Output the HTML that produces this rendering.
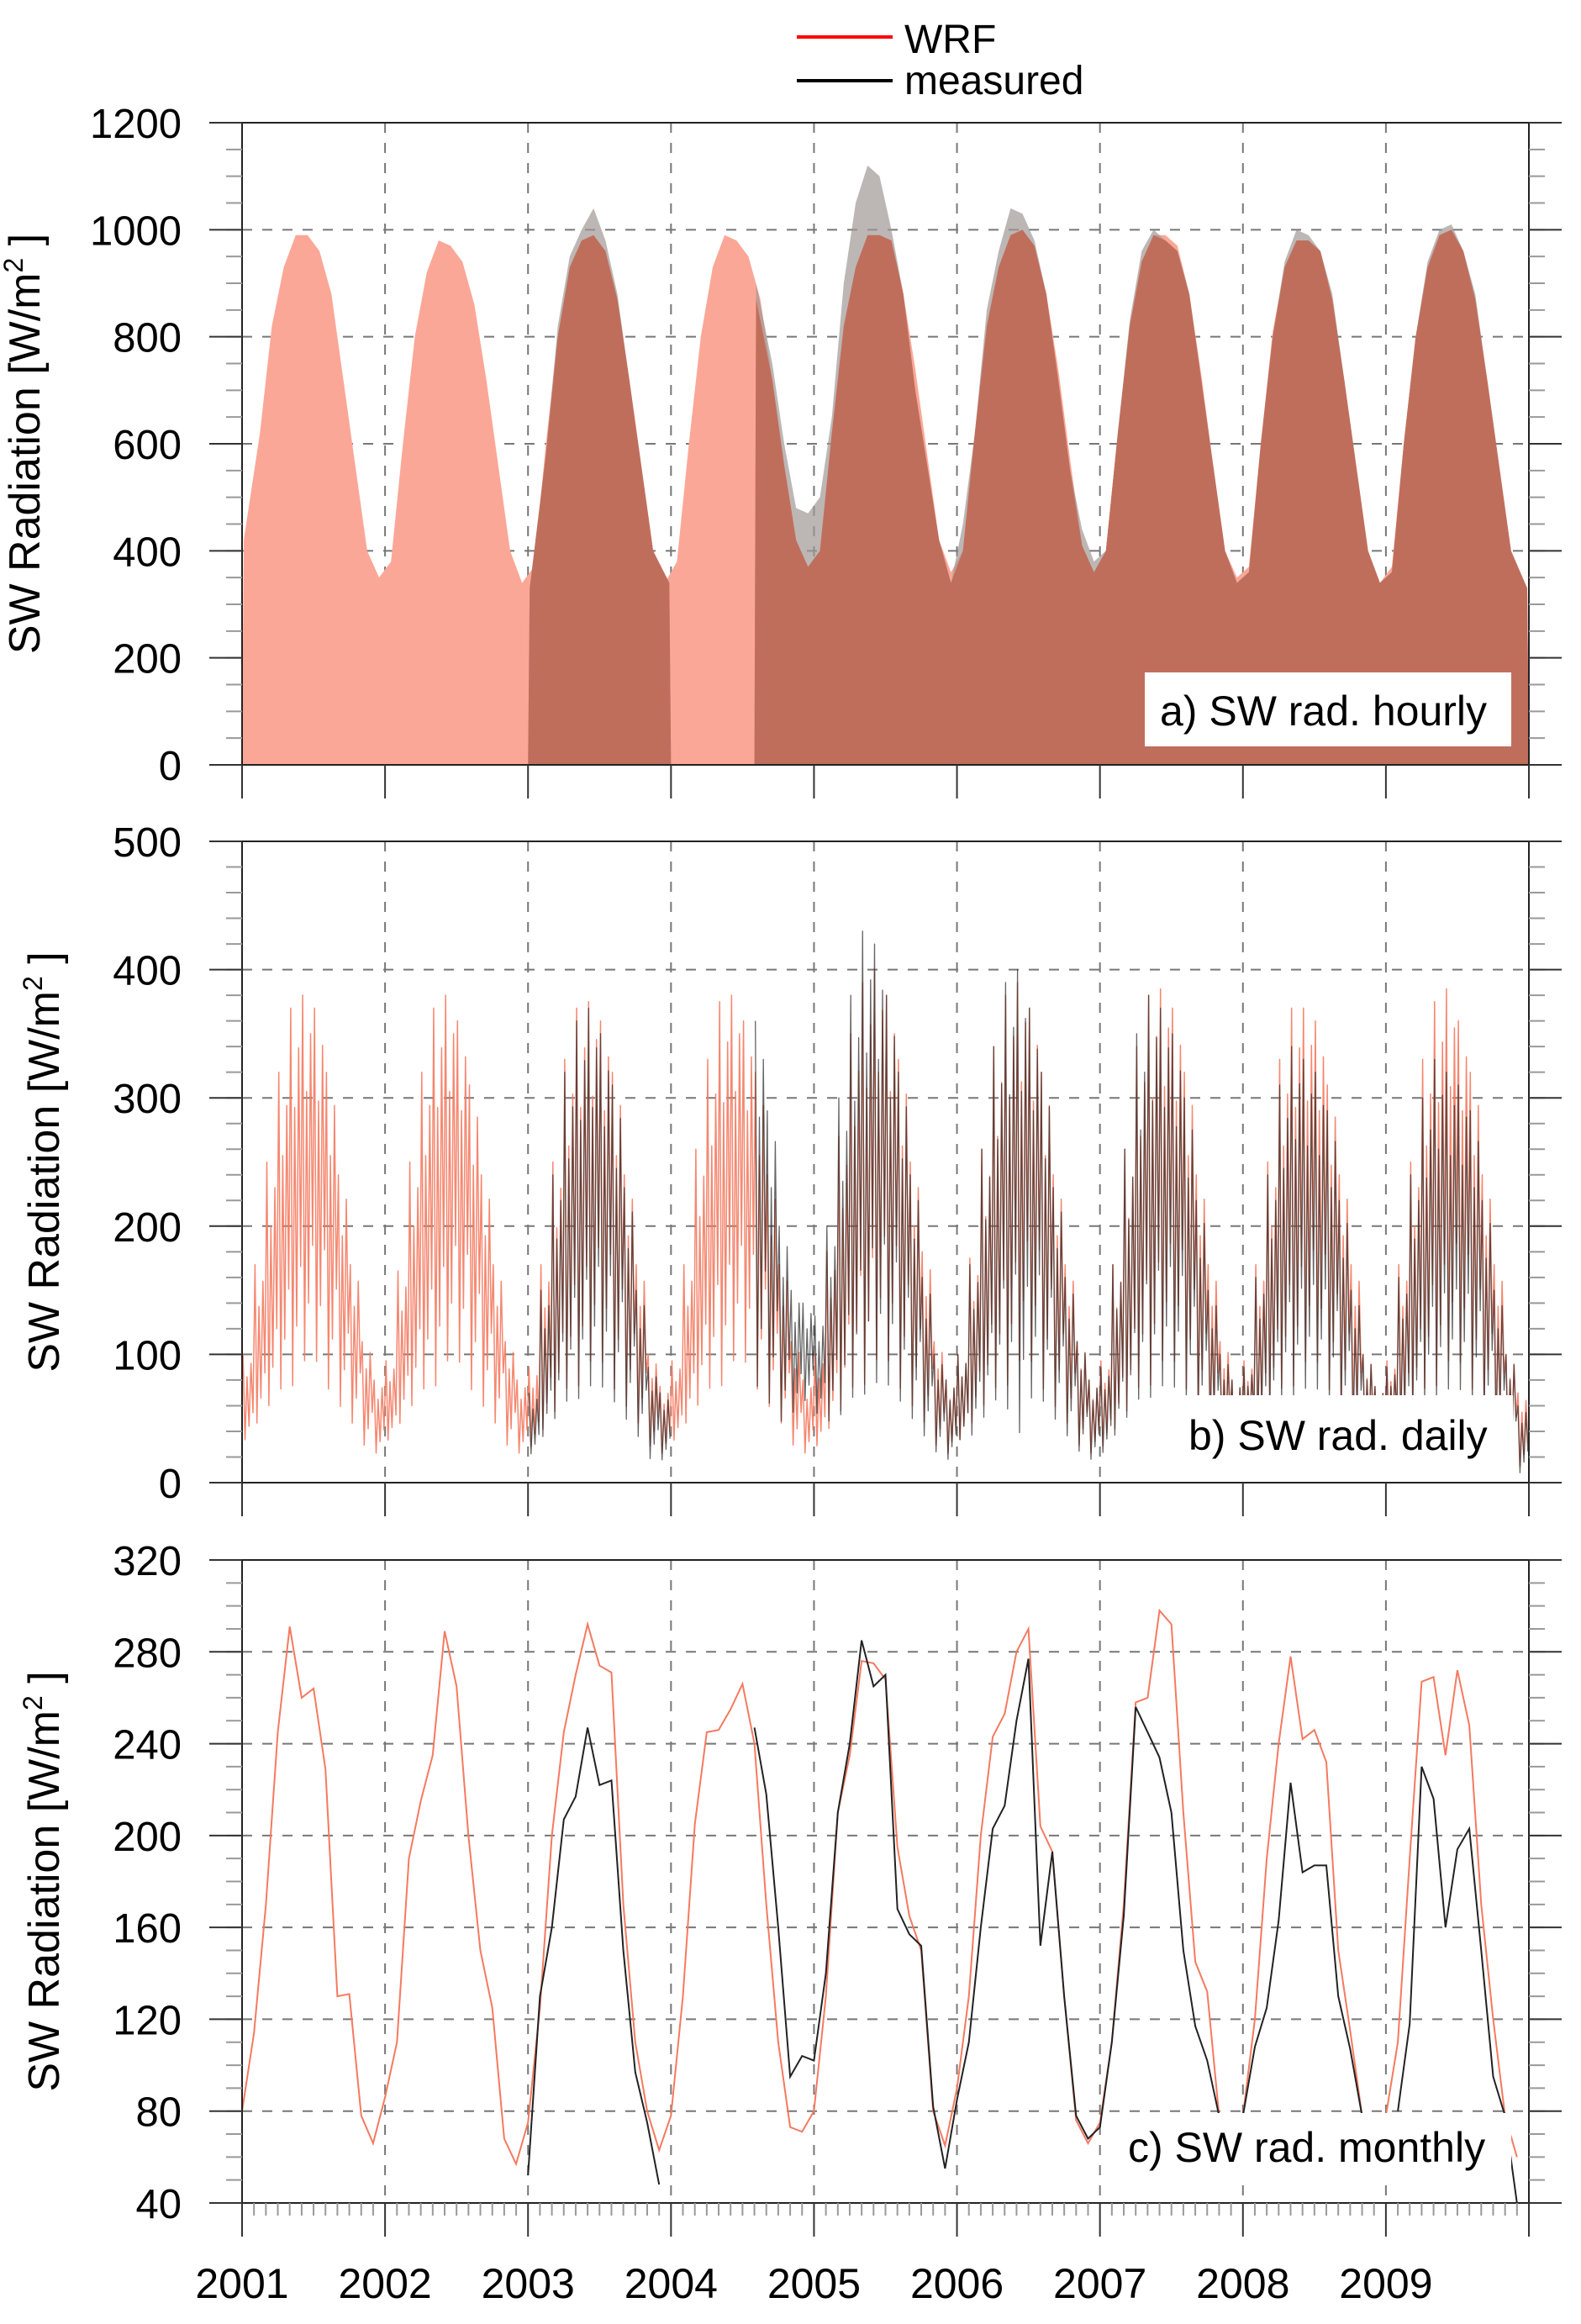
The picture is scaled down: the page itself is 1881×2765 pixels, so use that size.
<!DOCTYPE html>
<html><head><meta charset="utf-8"><style>
html,body{margin:0;padding:0;background:#fff;}
svg text{font-family:"Liberation Sans",sans-serif;fill:#000;}
</style></head><body>
<svg id="chart" width="1881" height="2760" viewBox="0 0 1881 2760" xmlns="http://www.w3.org/2000/svg">
<g id="legend">
  <line x1="948" y1="44" x2="1062" y2="44" stroke="#ff0000" stroke-width="4"/>
  <text x="1076" y="63" font-size="48">WRF</text>
  <line x1="948" y1="96" x2="1062" y2="96" stroke="#000" stroke-width="4"/>
  <text x="1076" y="112" font-size="48">measured</text>
</g>
<g id="pa"></g>
<g id="pb"></g>
<g id="pc"></g>
</svg>
<script>
const years = ["2001","2002","2003","2004","2005","2006","2007","2008","2009"];
// hourly monthly peak values (W/m2)
const wrfHourlyPeak = [420,620,820,930,990,990,960,880,720,560,400,350, 380,600,800,920,980,970,940,860,720,560,400,340, 370,600,800,930,980,990,960,870,720,560,400,340, 380,600,800,930,990,980,950,870,720,560,420,370, 400,620,820,930,990,990,980,880,740,580,420,360, 400,620,820,930,990,1000,970,880,740,570,410,360, 400,620,820,940,990,990,970,880,730,560,400,350, 370,600,810,930,980,980,960,870,720,560,400,340, 370,600,800,930,990,1000,960,870,720,560,400,330];
const measHourlyPeak = [null,null,null,null,null,null,null,null,null,null,null,null, null,null,null,null,null,null,null,null,null,null,null,null, 330,580,820,950,1000,1040,980,880,720,560,400,340, null,null,null,null,null,null,null,900,750,600,480,470, 500,650,900,1050,1120,1100,1000,880,700,560,420,340, 450,620,850,960,1040,1030,980,880,720,550,440,380, 400,620,830,960,1000,980,960,880,720,560,400,340, 360,600,800,940,1000,990,960,880,720,560,400,340, 360,600,800,940,1000,1010,960,880,720,560,400,330];
// daily monthly high / low
const wrfDailyHi = [100,170,250,320,370,380,370,320,240,170,110,80, 95,165,250,320,370,380,360,310,240,170,110,80, 90,170,250,330,370,375,360,320,240,170,100,75, 95,170,260,330,375,380,360,320,240,170,110,80, 100,180,270,350,390,400,380,330,250,180,110,80, 100,175,260,340,380,390,370,320,240,170,110,80, 95,170,260,340,380,385,370,320,240,170,110,80, 95,170,250,330,370,370,360,310,240,170,100,75, 95,170,250,330,375,385,360,320,240,170,100,70];
const wrfDailyLo = [30,40,50,60,60,80,80,60,50,40,25,20, 30,40,50,60,60,80,80,60,50,40,25,20, 25,35,45,60,60,80,80,60,50,40,25,20, 30,40,50,60,60,80,80,60,50,40,25,20, 25,35,45,60,60,80,80,60,50,40,25,20, 30,40,50,60,60,80,80,60,50,40,25,20, 25,35,45,60,60,80,80,60,50,40,25,20, 30,40,50,60,60,80,80,60,50,40,25,20, 30,40,50,60,60,80,80,60,50,40,25,10];
const measDailyHi = [null,null,null,null,null,null,null,null,null,null,null,null, null,null,null,null,null,null,null,null,null,null,null,null, 70,150,240,320,360,370,350,310,230,150,90,70, null,null,null,null,null,null,null,360,290,200,150,140, 130,200,300,380,430,420,380,320,240,160,100,80, 100,170,260,340,390,400,370,320,230,160,110,80, 90,170,260,350,380,370,350,300,220,150,100,80, 90,160,240,310,340,330,320,290,220,150,100,75, 90,160,240,300,330,320,310,290,220,150,100,60];
const measDailyLo = [null,null,null,null,null,null,null,null,null,null,null,null, null,null,null,null,null,null,null,null,null,null,null,null, 20,30,40,50,50,60,60,50,40,30,15,15, null,null,null,null,null,null,null,60,50,40,50,60, 50,40,40,50,50,60,60,50,40,30,20,15, 30,30,40,50,40,20,50,50,40,30,20,15, 20,30,40,50,50,60,60,50,40,30,20,20, 30,30,40,50,50,60,60,50,40,30,20,20, 30,30,40,50,50,60,60,50,40,30,20,5];
// monthly means
const wrfMonthly = [80,114,170,245,291,260,264,229,130,131,78,66, 86,110,190,215,235,289,265,200,150,125,68,57, 75,125,200,245,270,292,274,271,170,110,80,63, 78,130,205,245,246,255,266,240,170,110,73,71, 80,130,210,235,276,275,268,195,165,150,80,65, 90,130,200,243,253,280,290,204,193,130,76,66, 75,110,170,258,260,298,292,210,145,132,78,null, 78,120,190,240,278,242,246,232,150,115,78,null, 78,110,190,267,269,235,272,248,170,120,78,60];
const measMonthly = [null,null,null,null,null,null,null,null,null,null,null,null, null,null,null,null,null,null,null,null,null,null,null,null, 52,130,160,207,217,247,222,224,150,97,75,48, null,null,null,null,null,null,null,247,218,160,95,104, 102,140,210,240,285,265,270,168,157,152,82,55, 85,110,160,203,213,250,277,152,193,130,78,68, 73,110,165,256,245,234,210,150,117,102,78,null, 78,108,125,163,223,184,187,187,130,107,78,null, null,80,118,230,216,160,194,203,150,95,78,40];
const yTicksA = [0,200,400,600,800,1000,1200];
const yTicksB = [0,100,200,300,400,500];
const yTicksC = [40,80,120,160,200,240,280,320];

const NS="http://www.w3.org/2000/svg";
const X0=288, X1=1819;
function xs(t){return X0+t/9*(X1-X0);}
function mk(parent,tag,attrs){const e=document.createElementNS(NS,tag);for(const k in attrs)e.setAttribute(k,attrs[k]);parent.appendChild(e);return e;}

function frame(g,top,bot,vmin,vmax,ticks){
  const ys=v=>bot-(v-vmin)/(vmax-vmin)*(bot-top);
  for(const v of ticks){ if(v===vmin||v===vmax)continue;
    const l=mk(g,'line',{x1:X0,x2:X1,y1:ys(v),y2:ys(v),stroke:'#777','stroke-width':2,'stroke-dasharray':'12,12'});
    
    
  }
  for(let i=1;i<9;i++){
    const l=mk(g,'line',{x1:xs(i),x2:xs(i),y1:top,y2:bot,stroke:'#777','stroke-width':2,'stroke-dasharray':'12,12'});
    
    
  }
  return ys;
}
function axes(g,top,bot,vmin,vmax,ticks,minorStep,titleX,monthTicks,ys){
  mk(g,'rect',{x:X0,y:top,width:X1-X0,height:bot-top,fill:'none',stroke:'#222','stroke-width':2});
  for(let v=vmin;v<=vmax+0.001;v+=minorStep){
    mk(g,'line',{x1:X0-19,x2:X0,y1:ys(v),y2:ys(v),stroke:'#999','stroke-width':2});
    mk(g,'line',{x1:X1,x2:X1+19,y1:ys(v),y2:ys(v),stroke:'#999','stroke-width':2});
  }
  for(const v of ticks){
    mk(g,'line',{x1:X0-39,x2:X0,y1:ys(v),y2:ys(v),stroke:'#333','stroke-width':2});
    mk(g,'line',{x1:X1,x2:X1+39,y1:ys(v),y2:ys(v),stroke:'#333','stroke-width':2});
    const t=mk(g,'text',{x:216,y:ys(v)+18,'font-size':49,'text-anchor':'end'});
    t.textContent=v;
    
    
  }
  for(let i=0;i<=9;i++) mk(g,'line',{x1:xs(i),x2:xs(i),y1:bot,y2:bot+40,stroke:'#333','stroke-width':2});
  if(monthTicks){ for(let m=1;m<108;m++){ if(m%12) mk(g,'line',{x1:xs(m/12),x2:xs(m/12),y1:bot,y2:bot+15,stroke:'#999','stroke-width':2}); } }
  const cy=(top+bot)/2;
  const tt=mk(g,'text',{x:titleX,y:cy,'font-size':52,'text-anchor':'middle',transform:`rotate(-90 ${titleX} ${cy})`});
  tt.innerHTML='SW Radiation [W/m<tspan dy="-20" font-size="32">2</tspan><tspan dy="20"> ]</tspan>';
  
  
}
function label(g,x,y,w,h,txt,tx,ty,name){
  const r=mk(g,'rect',{x:x,y:y,width:w,height:h,fill:'#fff'});
  
  
  const t=mk(g,'text',{x:tx,y:ty,'font-size':50});
  t.textContent=txt;
  
  
}

// Panel A
{
 const g=document.getElementById('pa'); const top=146,bot=910;
 const ys=frame(g,top,bot,0,1200,yTicksA);
 function poly(arr,color,name,op){
   let segs=[],cur=[];
   arr.forEach((v,i)=>{ if(v==null){if(cur.length)segs.push(cur);cur=[];} else cur.push([i,v]); });
   if(cur.length)segs.push(cur);
   segs.forEach(s=>{
     let pts=[[xs(s[0][0]/12),bot]];
     s.forEach(([i,v])=>{ pts.push([xs((i+0.5)/12),ys(v)]); });
     pts[1][0]=xs(s[0][0]/12)+2; pts[pts.length-1][0]=xs((s[s.length-1][0]+1)/12)-2;
     pts.push([xs((s[s.length-1][0]+1)/12),bot]);
     const p=mk(g,'polygon',{points:pts.map(p=>p.join(',')).join(' '),fill:color,opacity:op});
     
     
   });
 }
 poly(wrfHourlyPeak,'#fba797','wrf-hourly-area',1);
 poly(measHourlyPeak,'#a09896','measured-hourly-area',0.7);
 poly(measHourlyPeak.map((v,i)=>v==null?null:Math.min(v,wrfHourlyPeak[i])),'#c06e5c','overlap-hourly-area',1);
 axes(g,top,bot,0,1200,yTicksA,50,47,false,ys);
 label(g,1362,800,436,88,'a) SW rad. hourly',1380,863,'panel-a-label');
}
// Panel B
const pat=[1,0.05,0.75,0.2,0.9,0.35];
function zig(hi,lo){
 let pts=[];
 hi.forEach((h,i)=>{ if(h==null){pts.push(null);return;}
   const l=lo[i];
   for(let k=0;k<pat.length;k++){ pts.push([(i+(k+0.5)/pat.length)/12, l+pat[k]*(h-l)]); }
 });
 return pts;
}
{
 const g=document.getElementById('pb'); const top=1001,bot=1764;
 const ys=frame(g,top,bot,0,500,yTicksB);
 function line(pts,color,name,w,op){
   let d='',pen=false;
   pts.forEach(p=>{ if(!p){pen=false;return;} d+=(pen?'L':'M')+xs(p[0]).toFixed(1)+','+ys(p[1]).toFixed(1); pen=true; });
   const e=mk(g,'path',{d:d,fill:'none',stroke:color,'stroke-width':w,'stroke-opacity':op,'stroke-linejoin':'round'});
   
   
 }
 line(zig(wrfDailyHi,wrfDailyLo),'#f47a60','wrf-daily-line',1.5,0.9);
 line(zig(measDailyHi,measDailyLo),'#222','measured-daily-line',1.3,0.7);
 axes(g,top,bot,0,500,yTicksB,20,70,false,ys);
 label(g,1404,1660,396,100,'b) SW rad. daily',1414,1725,'panel-b-label');
}
// Panel C
{
 const g=document.getElementById('pc'); const top=1856,bot=2621;
 const ys=frame(g,top,bot,40,320,yTicksC);
 const cp=mk(g,'clipPath',{id:'clipc'}); mk(cp,'rect',{x:X0,y:top,width:X1-X0,height:bot-top});
 function line(arr,color,name,w){
   let d='',pen=false;
   arr.forEach((v,i)=>{ if(v==null){pen=false;return;} d+=(pen?'L':'M')+xs(i/12).toFixed(1)+','+ys(v).toFixed(1); pen=true; });
   const e=mk(g,'path',{d:d,fill:'none',stroke:color,'stroke-width':w,'clip-path':'url(#clipc)'});
   
   
 }
 line(wrfMonthly,'#f47a60','wrf-monthly-line',2);
 line(measMonthly,'#222','measured-monthly-line',2);
 axes(g,top,bot,40,320,yTicksC,10,70,true,ys);
 label(g,1331,2514,467,80,'c) SW rad. monthly',1342,2572,'panel-c-label');
 years.forEach((y,i)=>{
   const t=mk(g,'text',{x:xs(i),y:2734,'font-size':50,'text-anchor':'middle'});
   t.textContent=y;
   
   
 });
}
</script>
</body></html>
